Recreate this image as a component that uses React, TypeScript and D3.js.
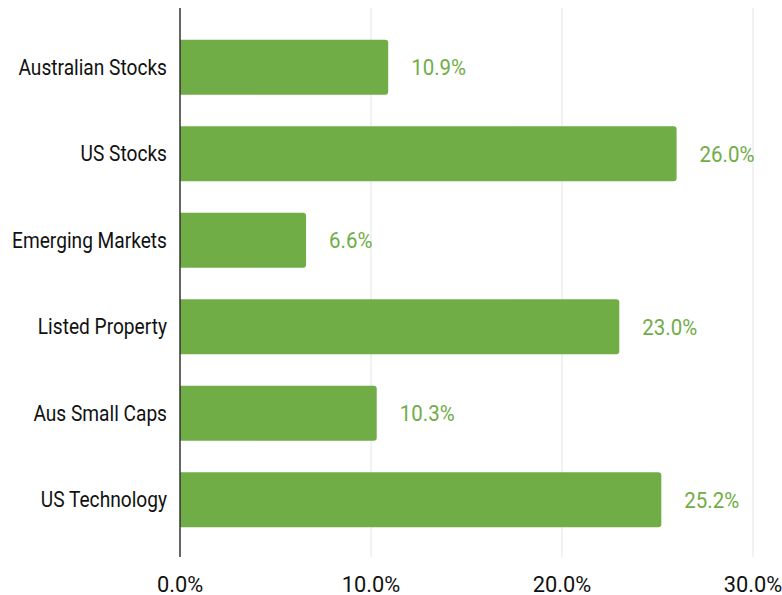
import React from "react";
import * as d3 from "d3";

const categories = [
  "Australian Stocks",
  "US Stocks",
  "Emerging Markets",
  "Listed Property",
  "Aus Small Caps",
  "US Technology",
];
const values = [10.9, 26.0, 6.6, 23.0, 10.3, 25.2];
const ticks = [0, 10, 20, 30];

const W = 782;
const H = 595;
const FONT = "Roboto, 'Liberation Sans', Arial, sans-serif";
const GREEN = "#70AD47";

function barPath(x0: number, x1: number, y0: number, h: number, r: number) {
  const rr = Math.min(r, (x1 - x0) / 2, h / 2);
  return `M${x0},${y0}H${x1 - rr}Q${x1},${y0} ${x1},${y0 + rr}V${y0 + h - rr}Q${x1},${y0 + h} ${x1 - rr},${y0 + h}H${x0}Z`;
}

function T(props: {
  x: number;
  y: number;
  anchor: string;
  fill: string;
  fs: number;
  sx: number;
  dy?: string;
  children: React.ReactNode;
}) {
  return (
    <text
      transform={`translate(${props.x},${props.y}) scale(${props.sx},1)`}
      dy={props.dy}
      textAnchor={props.anchor}
      fontSize={props.fs}
      fill={props.fill}
    >
      {props.children}
    </text>
  );
}

export default function App() {
  const x = d3.scaleLinear().domain([0, 30]).range([180, 753]);
  const y = d3
    .scaleBand<string>()
    .domain(categories)
    .range([24, 543])
    .paddingInner(0.364)
    .paddingOuter(0.182);
  const plotTop = 8;
  const plotBottom = 557;

  return (
    <svg
      width={W}
      height={H}
      style={{ position: "absolute", left: 0, top: 0, background: "#fff" }}
      fontFamily={FONT}
    >
      {ticks.slice(1).map((t) => (
        <line
          key={"g" + t}
          x1={x(t)}
          x2={x(t)}
          y1={plotTop}
          y2={plotBottom}
          stroke="#e4e4e4"
          strokeWidth={1}
        />
      ))}
      {categories.map((c, i) => {
        const y0 = y(c)!;
        const h = y.bandwidth();
        return (
          <g key={c}>
            <path d={barPath(x(0), x(values[i]), y0, h, 3)} fill={GREEN} />
            <T
              x={167}
              y={y0 + h / 2}
              dy="0.35em"
              anchor="end"
              fill="#111"
              fs={22}
              sx={0.87}
            >
              {c}
            </T>
            <T
              x={x(values[i]) + 23}
              y={y0 + h / 2}
              dy="0.35em"
              anchor="start"
              fill={GREEN}
              fs={22.5}
              sx={0.91}
            >
              {values[i].toFixed(1) + "%"}
            </T>
          </g>
        );
      })}
      <line
        x1={x(0)}
        x2={x(0)}
        y1={plotTop}
        y2={plotBottom}
        stroke="#333"
        strokeWidth={1.5}
      />
      {ticks.map((t) => (
        <T
          key={"t" + t}
          x={x(t)}
          y={592}
          anchor="middle"
          fill="#111"
          fs={22.5}
          sx={0.97}
        >
          {t.toFixed(1) + "%"}
        </T>
      ))}
    </svg>
  );
}
